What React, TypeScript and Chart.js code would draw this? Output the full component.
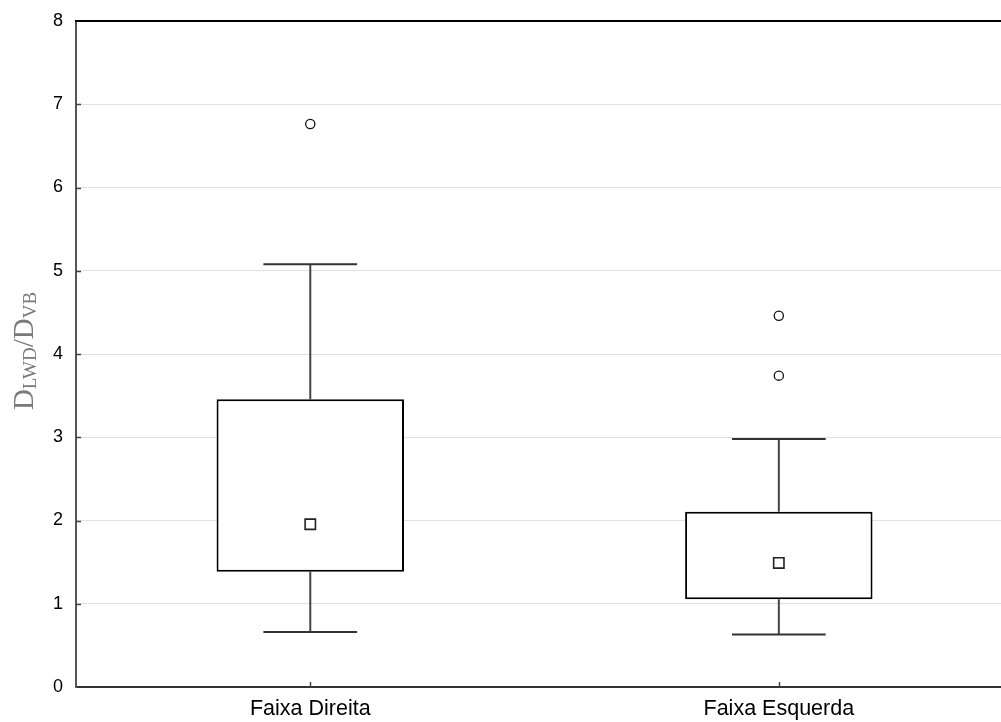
import React, { useEffect, useRef } from "react";
import { Chart, registerables } from "chart.js";

Chart.register(...registerables);

const categories = ["Faixa Direita", "Faixa Esquerda"];
const whiskerMin = [0.66, 0.63];
const q1 = [1.385, 1.053];
const medians = [1.955, 1.49];
const q3 = [3.455, 2.106];
const whiskerMax = [5.077, 2.98];
const outliersA = [6.763, 4.46];
const outliersB: (number | null)[] = [null, 3.74];
const yMin = 0;
const yMax = 8;

const SANS = "'Liberation Sans', Arial, sans-serif";
const SERIF = "'Liberation Serif', 'Times New Roman', serif";

const boxPlugin = {
  id: "boxExtras",
  beforeDatasetsDraw(chart: any) {
    const { ctx, scales } = chart;
    const x = scales.x;
    const y = scales.y;
    const catW = x.getPixelForValue(1) - x.getPixelForValue(0);
    const capHalf = catW * 0.1;
    ctx.save();
    categories.forEach((_, i) => {
      const cx = x.getPixelForValue(i);
      ctx.strokeStyle = "#444";
      ctx.lineWidth = 2;
      ctx.beginPath();
      ctx.moveTo(cx, y.getPixelForValue(q3[i]));
      ctx.lineTo(cx, y.getPixelForValue(whiskerMax[i]));
      ctx.moveTo(cx, y.getPixelForValue(q1[i]));
      ctx.lineTo(cx, y.getPixelForValue(whiskerMin[i]));
      ctx.stroke();
      ctx.strokeStyle = "#333";
      ctx.beginPath();
      const yt = y.getPixelForValue(whiskerMax[i]);
      const yb = y.getPixelForValue(whiskerMin[i]);
      ctx.moveTo(cx - capHalf, yt);
      ctx.lineTo(cx + capHalf, yt);
      ctx.moveTo(cx - capHalf, yb);
      ctx.lineTo(cx + capHalf, yb);
      ctx.stroke();
    });
    ctx.restore();
  },
  afterDraw(chart: any) {
    const { ctx, scales, chartArea } = chart;
    const x = scales.x;
    const y = scales.y;
    ctx.save();
    // top border
    ctx.strokeStyle = "#000";
    ctx.lineWidth = 2;
    ctx.beginPath();
    ctx.moveTo(chartArea.left - 1, chartArea.top);
    ctx.lineTo(chartArea.right, chartArea.top);
    ctx.stroke();
    // inner ticks
    ctx.strokeStyle = "#444";
    ctx.lineWidth = 1.5;
    ctx.beginPath();
    for (let v = yMin + 1; v < yMax; v++) {
      const py = Math.round(y.getPixelForValue(v)) + 0.5;
      ctx.moveTo(chartArea.left, py);
      ctx.lineTo(chartArea.left + 5, py);
    }
    categories.forEach((_, i) => {
      const px = Math.round(x.getPixelForValue(i)) + 0.5;
      ctx.moveTo(px, chartArea.bottom);
      ctx.lineTo(px, chartArea.bottom - 5);
    });
    ctx.stroke();

    // y title: D_LWD / D_VB
    const parts = [
      { t: "D", big: true },
      { t: "LWD", big: false },
      { t: "/", big: true },
      { t: "D", big: true },
      { t: "VB", big: false },
    ];
    const bigFont = `29px ${SERIF}`;
    const subFont = `19px ${SERIF}`;
    let total = 0;
    const widths = parts.map((p) => {
      ctx.font = p.big ? bigFont : subFont;
      const w = ctx.measureText(p.t).width;
      total += w;
      return w;
    });
    ctx.translate(33, 351);
    ctx.rotate(-Math.PI / 2);
    ctx.fillStyle = "#7a7a7a";
    ctx.textBaseline = "alphabetic";
    ctx.textAlign = "left";
    let cur = -total / 2;
    parts.forEach((p, i) => {
      ctx.font = p.big ? bigFont : subFont;
      ctx.fillText(p.t, cur, p.big ? 0 : 3);
      cur += widths[i];
    });
    ctx.restore();
  },
};

export default function App() {
  const ref = useRef<HTMLCanvasElement | null>(null);
  useEffect(() => {
    if (!ref.current) return;
    const chart = new Chart(ref.current, {
      type: "bar",
      data: {
        labels: categories,
        datasets: [
          {
            type: "line",
            label: "median",
            data: medians,
            showLine: false,
            pointStyle: "rect",
            pointRadius: 7.3,
            pointBackgroundColor: "#fff",
            pointBorderColor: "#222",
            pointBorderWidth: 1.6,
            order: 0,
          } as any,
          {
            type: "line",
            label: "outA",
            data: outliersA,
            showLine: false,
            pointStyle: "circle",
            pointRadius: 4.6,
            pointBackgroundColor: "#fff",
            pointBorderColor: "#111",
            pointBorderWidth: 1.3,
            order: 0,
          } as any,
          {
            type: "line",
            label: "outB",
            data: outliersB,
            showLine: false,
            pointStyle: "circle",
            pointRadius: 4.6,
            pointBackgroundColor: "#fff",
            pointBorderColor: "#111",
            pointBorderWidth: 1.3,
            order: 0,
          } as any,
          {
            type: "bar",
            label: "box",
            data: categories.map((_, i) => [q1[i], q3[i]]),
            backgroundColor: "#fff",
            borderColor: "#000",
            borderWidth: 2,
            borderSkipped: false,
            barPercentage: 0.4,
            categoryPercentage: 1,
            order: 1,
          } as any,
        ],
      },
      options: {
        responsive: false,
        animation: false,
        layout: { padding: { left: 0, top: 21, right: 0, bottom: 0 } },
        plugins: {
          legend: { display: false },
          tooltip: { enabled: false },
        },
        scales: {
          x: {
            type: "category",
            offset: true,
            afterFit: (s: any) => {
              s.height = 35;
              s.paddingLeft = 0;
              s.paddingRight = 0;
            },
            grid: { display: false, drawTicks: false },
            border: { display: true, color: "#333", width: 2 },
            ticks: {
              color: "#000",
              font: { family: SANS, size: 21.5, lineHeight: 1.1 },
              padding: 10,
            },
          },
          y: {
            type: "linear",
            min: yMin,
            max: yMax,
            afterFit: (s: any) => {
              s.width = 76;
              s.paddingTop = 0;
              s.paddingBottom = 0;
            },
            grid: { color: "#e0e0e0", lineWidth: 1, drawTicks: false },
            border: { display: true, color: "#555", width: 2 },
            ticks: {
              stepSize: 1,
              color: "#000",
              font: { family: SANS, size: 18 },
              padding: 13,
            },
          },
        },
      },
      plugins: [boxPlugin],
    });
    return () => chart.destroy();
  }, []);
  return (
    <div
      style={{
        position: "fixed",
        left: 0,
        top: 0,
        width: 1001,
        height: 722,
        overflow: "hidden",
        background: "#fff",
      }}
    >
      <div style={{ width: 1022, height: 722 }}>
        <canvas ref={ref} width={1022} height={722} style={{ width: 1022, height: 722, display: "block" }} />
      </div>
    </div>
  );
}
